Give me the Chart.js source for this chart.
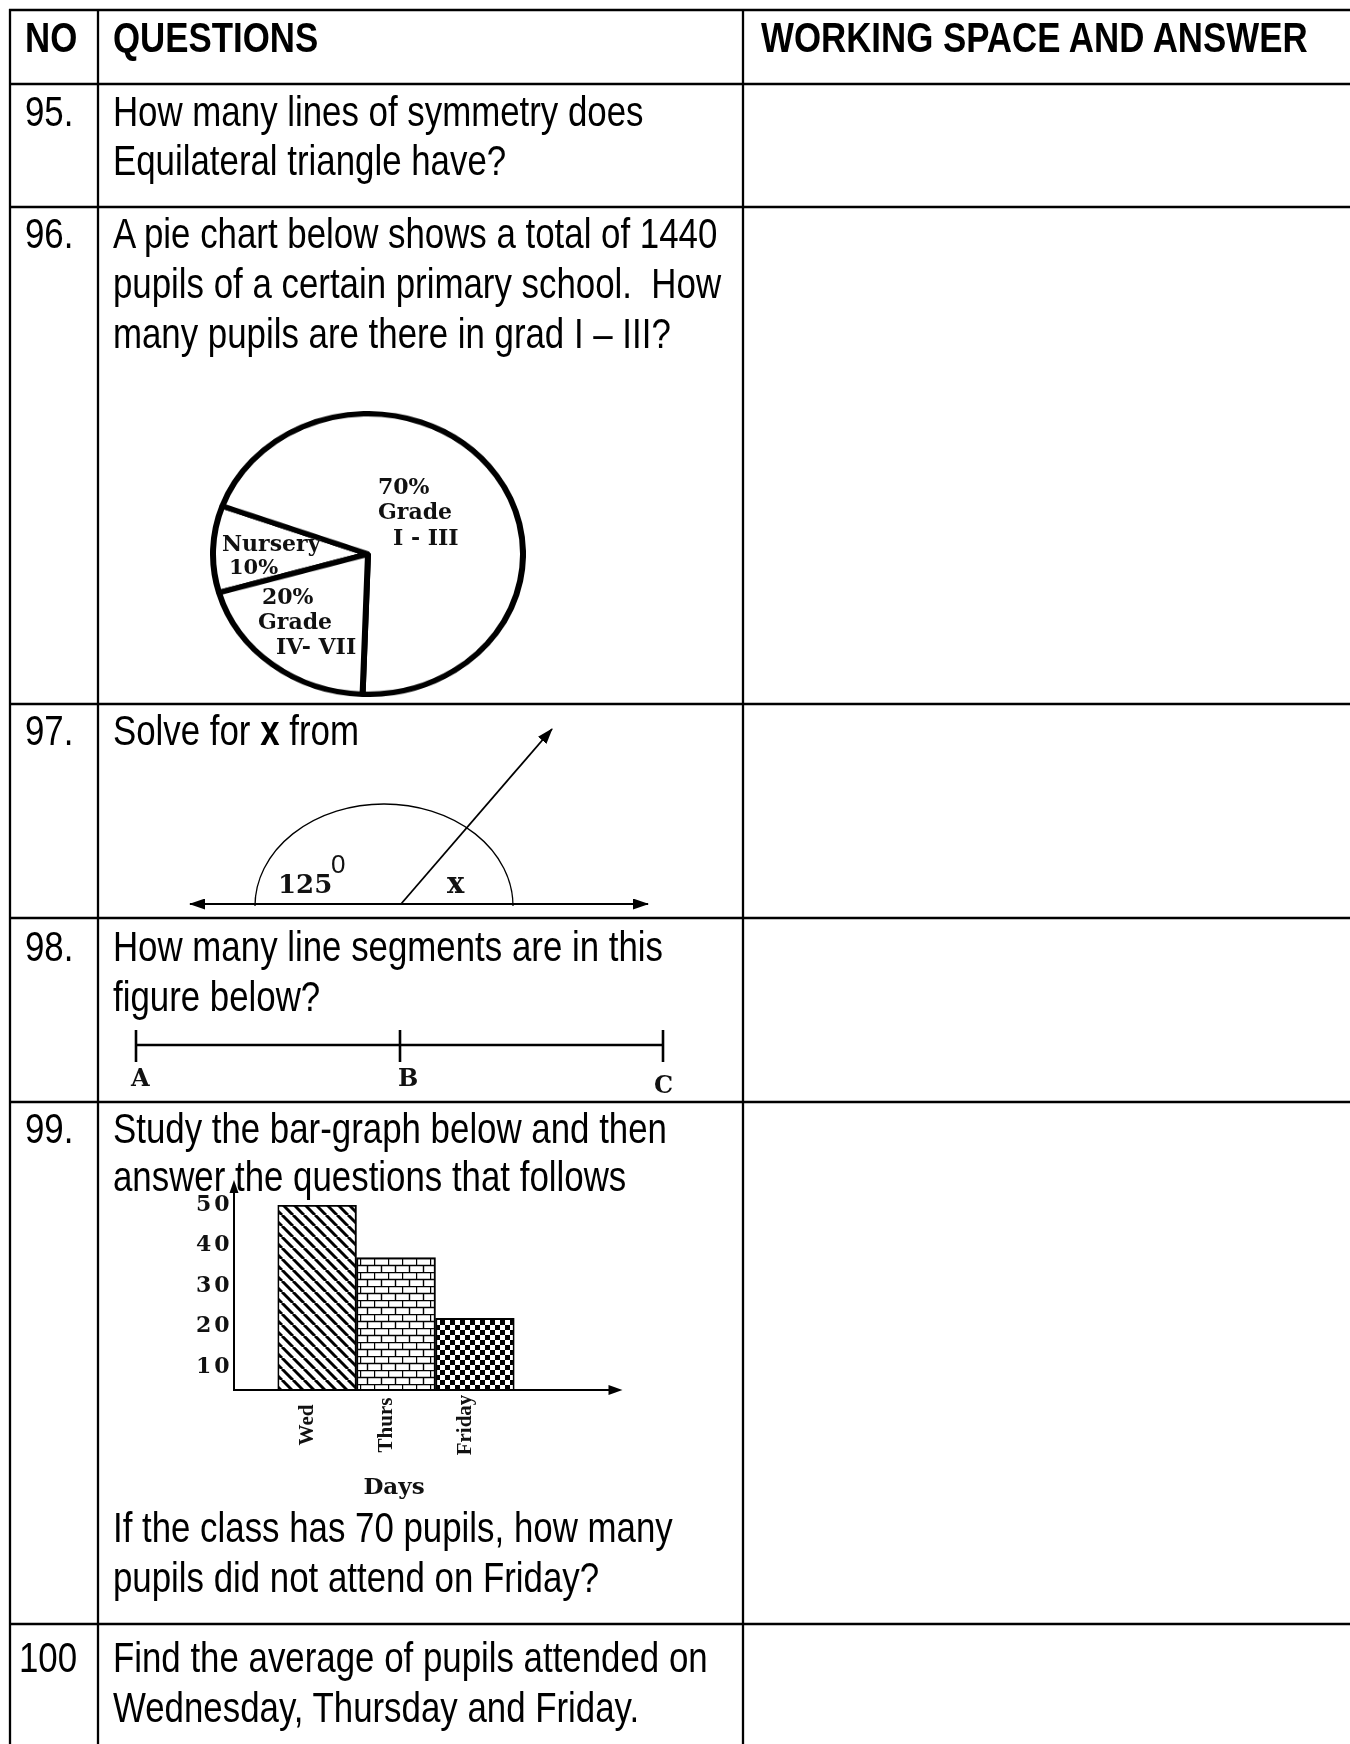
<!DOCTYPE html>
<html>
<head>
<meta charset="utf-8">
<script src="https://cdn.jsdelivr.net/npm/chart.js@4.4.1/dist/chart.umd.min.js"></script>
<style>
html, body { margin: 0; padding: 0; background: #fff; }
#page { position: relative; width: 1350px; height: 1744px; overflow: hidden; }
canvas { position: absolute; z-index: 1; }
#pie { left: 210px; top: 411px; }
#bars { left: 150px; top: 1160px; }
svg { position: absolute; left: 0; top: 0; z-index: 2; }
.q { font-family: 'Liberation Sans Narrow', 'Liberation Sans', Arial, sans-serif; font-size: 42px; fill: #000; white-space: pre; }
.b { font-weight: bold; }
.lbl { font-family: 'DejaVu Serif', serif; font-weight: bold; font-size: 22px; fill: #111; }
</style>
</head>
<body>
<div id="page">
  <!-- the printed pie is a little squashed, so the canvas is shown 316 x 286 -->
  <canvas id="pie" width="316" height="316" style="width:316px;height:286px"></canvas>
  <canvas id="bars" width="500" height="345"></canvas>

  <svg width="1350" height="1744" xmlns="http://www.w3.org/2000/svg">
    <defs>
      <marker id="ah" viewBox="0 0 16 11" refX="15" refY="5.5" markerWidth="16" markerHeight="11"
              markerUnits="userSpaceOnUse" orient="auto-start-reverse">
        <path d="M0,0 L16,5.5 L0,11 z" fill="#000"/>
      </marker>
    </defs>

    <!-- table grid -->
    <g stroke="#000" stroke-width="2.3">
      <line x1="10" y1="9" x2="10" y2="1744"/>
      <line x1="98" y1="9" x2="98" y2="1744"/>
      <line x1="743" y1="9" x2="743" y2="1744"/>
    </g>
    <g stroke="#000" stroke-width="2.7">
      <line x1="9" y1="10" x2="1350" y2="10"/>
      <line x1="9" y1="84" x2="1350" y2="84"/>
      <line x1="9" y1="207" x2="1350" y2="207"/>
      <line x1="9" y1="704" x2="1350" y2="704"/>
      <line x1="9" y1="918" x2="1350" y2="918"/>
      <line x1="9" y1="1102" x2="1350" y2="1102"/>
      <line x1="9" y1="1624" x2="1350" y2="1624"/>
    </g>

    <!-- narrow text: x values are divided by the 0.83 squeeze -->
    <g transform="scale(0.83 1)">
      <text class="q b" x="30.1" y="52">NO</text>
      <text class="q b" x="136.1" y="52">QUESTIONS</text>
      <text class="q b" x="916.9" y="52">WORKING SPACE AND ANSWER</text>

      <text class="q" x="30.1" y="126">95.</text>
      <text class="q" x="136.1" y="126">How many lines of symmetry does</text>
      <text class="q" x="136.1" y="175">Equilateral triangle have?</text>

      <text class="q" x="30.1" y="248">96.</text>
      <text class="q" x="136.1" y="248">A pie chart below shows a total of 1440</text>
      <text class="q" x="136.1" y="298">pupils of a certain primary school.  How</text>
      <text class="q" x="136.1" y="348">many pupils are there in grad I – III?</text>

      <text class="q" x="30.1" y="745">97.</text>
      <text class="q" x="136.1" y="745">Solve for <tspan class="b">x</tspan> from</text>

      <text class="q" x="30.1" y="961">98.</text>
      <text class="q" x="136.1" y="961">How many line segments are in this</text>
      <text class="q" x="136.1" y="1011">figure below?</text>

      <text class="q" x="30.1" y="1143">99.</text>
      <text class="q" x="136.1" y="1143">Study the bar-graph below and then</text>
      <text class="q" x="136.1" y="1191">answer the questions that follows</text>
      <text class="q" x="136.1" y="1542">If the class has 70 pupils, how many</text>
      <text class="q" x="136.1" y="1592">pupils did not attend on Friday?</text>

      <text class="q" x="22.9" y="1672">100</text>
      <text class="q" x="136.1" y="1672">Find the average of pupils attended on</text>
      <text class="q" x="136.1" y="1722">Wednesday, Thursday and Friday.</text>
    </g>

    <!-- pie labels -->
    <text class="lbl" x="378" y="494">70%</text>
    <text class="lbl" x="378" y="519">Grade</text>
    <text class="lbl" x="393" y="545">I - III</text>
    <text class="lbl" x="222" y="551">Nursery</text>
    <text class="lbl" x="229" y="574" style="font-size:21px">10%</text>
    <text class="lbl" x="262" y="604">20%</text>
    <text class="lbl" x="258" y="629">Grade</text>
    <text class="lbl" x="276" y="654">IV- VII</text>

    <!-- Q97 angle figure -->
    <g stroke="#000" fill="none">
      <line x1="190" y1="904" x2="648" y2="904" stroke-width="2" marker-start="url(#ah)" marker-end="url(#ah)"/>
      <path d="M255,906 A129,102 0 0 1 513,906" stroke-width="1.3"/>
      <line x1="401" y1="904" x2="552" y2="729" stroke-width="1.8" marker-end="url(#ah)"/>
    </g>
    <text class="lbl" x="278" y="893" style="font-size:26px">125</text>
    <text x="331" y="873" style="font-family:'Liberation Sans',sans-serif;font-size:26px;fill:#111">0</text>
    <text class="lbl" x="447" y="893" style="font-size:29px">x</text>

    <!-- Q98 segment figure -->
    <g stroke="#000" stroke-width="2.6">
      <line x1="136" y1="1045" x2="663" y2="1045"/>
      <line x1="136" y1="1030" x2="136" y2="1062"/>
      <line x1="400" y1="1030" x2="400" y2="1062"/>
      <line x1="663" y1="1030" x2="663" y2="1062"/>
    </g>
    <text class="lbl" x="131" y="1086" style="font-size:24px">A</text>
    <text class="lbl" x="398" y="1086" style="font-size:24px">B</text>
    <text class="lbl" x="654" y="1093" style="font-size:24px">C</text>
  </svg>
</div>

<script>
// Q96 pie chart data
const pieLabels = ['Nursery', 'Grade I - III', 'Grade IV - VII'];
const pieValues = [10, 70, 20];

// Q99 bar graph data
const days = ['Wed', 'Thurs', 'Friday'];
const pupils = [50, 37, 22];
const yTicks = [10, 20, 30, 40, 50];

// fill patterns for the bars
function makePattern(kind) {
    const c = document.createElement('canvas');
    const g = c.getContext('2d');
    if (kind === 'diag') {
        c.width = 11; c.height = 11;
        g.fillStyle = '#fff'; g.fillRect(0, 0, 11, 11);
        g.strokeStyle = '#000'; g.lineWidth = 3;
        [-11, 0, 11].forEach(k => {
            g.beginPath(); g.moveTo(k, 0); g.lineTo(k + 11, 11); g.stroke();
        });
    } else if (kind === 'brick') {
        c.width = 14; c.height = 14;
        g.fillStyle = '#fff'; g.fillRect(0, 0, 14, 14);
        g.strokeStyle = '#000'; g.lineWidth = 1.4;
        g.beginPath();
        g.moveTo(0, 0.5); g.lineTo(14, 0.5);
        g.moveTo(0, 7.5); g.lineTo(14, 7.5);
        g.moveTo(0.5, 0); g.lineTo(0.5, 7.5);
        g.moveTo(7.5, 7.5); g.lineTo(7.5, 14);
        g.stroke();
    } else {
        c.width = 10; c.height = 10;
        g.fillStyle = '#fff'; g.fillRect(0, 0, 10, 10);
        g.fillStyle = '#000';
        g.fillRect(0, 0, 5, 5); g.fillRect(5, 5, 5, 5);
    }
    return g.createPattern(c, 'repeat');
}

new Chart(document.getElementById('pie'), {
    type: 'pie',
    data: {
        labels: pieLabels,
        datasets: [{
            data: pieValues,
            backgroundColor: '#fff',
            borderColor: '#000',
            borderWidth: 6
        }]
    },
    options: {
        responsive: false,
        animation: false,
        devicePixelRatio: 1,
        rotation: 254,
        plugins: { legend: { display: false }, tooltip: { enabled: false } }
    }
});

// axes with arrows, tick labels, rotated day labels and the axis title
const barDecor = {
    id: 'barDecor',
    afterDatasetsDraw(chart) {
        const { ctx, chartArea: a, scales: { x, y } } = chart;
        const ax = a.left - 43.5;
        const tipY = a.top - 25, tipX = a.right + 108;
        ctx.save();
        ctx.strokeStyle = '#000';
        ctx.fillStyle = '#000';
        ctx.lineWidth = 2;
        ctx.beginPath();
        ctx.moveTo(ax, a.bottom + 1); ctx.lineTo(ax, tipY + 8);
        ctx.moveTo(ax - 1, a.bottom); ctx.lineTo(tipX - 8, a.bottom);
        ctx.stroke();
        ctx.beginPath();
        ctx.moveTo(ax, tipY); ctx.lineTo(ax - 4.5, tipY + 13); ctx.lineTo(ax + 4.5, tipY + 13);
        ctx.closePath(); ctx.fill();
        ctx.beginPath();
        ctx.moveTo(tipX, a.bottom); ctx.lineTo(tipX - 14, a.bottom - 5); ctx.lineTo(tipX - 14, a.bottom + 5);
        ctx.closePath(); ctx.fill();

        ctx.fillStyle = '#111';
        ctx.font = 'bold 22px "DejaVu Serif", serif';
        ctx.letterSpacing = '3px';
        ctx.textAlign = 'right';
        ctx.textBaseline = 'middle';
        yTicks.forEach(v => ctx.fillText(String(v), a.left - 45, y.getPixelForValue(v)));
        ctx.letterSpacing = '0px';

        ctx.font = 'bold 21px "Liberation Serif", serif';
        ctx.textAlign = 'center';
        chart.data.labels.forEach((lab, i) => {
            ctx.save();
            ctx.translate(x.getPixelForTick(i) - 9, a.bottom + 35);
            ctx.rotate(-Math.PI / 2);
            ctx.fillText(lab, 0, 0);
            ctx.restore();
        });
        ctx.font = 'bold 23px "DejaVu Serif", serif';
        ctx.textBaseline = 'alphabetic';
        ctx.fillText('Days', (a.left + a.right) / 2 - 2, a.bottom + 104);
        ctx.restore();
    }
};

new Chart(document.getElementById('bars'), {
    type: 'bar',
    data: {
        labels: days,
        datasets: [{
            data: pupils,
            backgroundColor: [makePattern('diag'), makePattern('brick'), makePattern('check')],
            borderColor: '#000',
            borderWidth: 2,
            barPercentage: 1,
            categoryPercentage: 1
        }]
    },
    options: {
        responsive: false,
        animation: false,
        devicePixelRatio: 1,
        layout: { padding: { top: 45, right: 135.5, left: 0, bottom: 0 } },
        plugins: { legend: { display: false }, tooltip: { enabled: false } },
        scales: {
            x: {
                grid: { display: false, drawTicks: false },
                border: { display: false },
                ticks: { display: false },
                afterFit(s) { s.height = 115; }
            },
            y: {
                // the drawn axis starts a little above zero
                min: 4.3,
                max: 50,
                grid: { display: false, drawTicks: false },
                border: { display: false },
                ticks: { display: false },
                afterFit(s) { s.width = 127.5; }
            }
        }
    },
    plugins: [barDecor]
});
</script>
</body>
</html>
